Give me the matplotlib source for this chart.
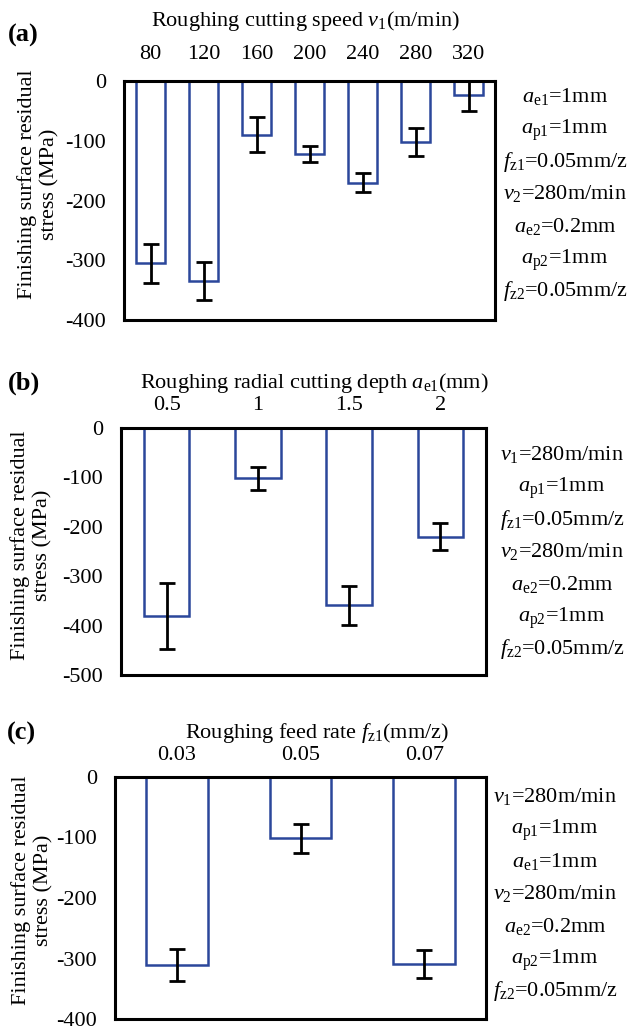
import numpy as np
import matplotlib
matplotlib.use("Agg")
import matplotlib.pyplot as plt

plt.rcParams['font.family'] = ['Liberation Serif', 'DejaVu Serif']
plt.rcParams['mathtext.fontset'] = 'custom'
plt.rcParams['mathtext.rm'] = 'Liberation Serif'
plt.rcParams['mathtext.it'] = 'Liberation Serif:italic'
plt.rcParams['axes.unicode_minus'] = False

# (a) roughing cutting speed
speed_labels = ['80', '120', '160', '200', '240', '280', '320']
speed_stress = [-305, -335, -90, -122, -170, -102, -23]
speed_err = [33, 32, 29, 13, 16, 24, 27]

# (b) roughing radial cutting depth
depth_labels = ['0.5', '1', '1.5', '2']
depth_stress = [-381, -102, -359, -220]
depth_err = [67, 24, 40, 27]

# (c) roughing feed rate
feed_labels = ['0.03', '0.05', '0.07']
feed_stress = [-311, -101, -309]
feed_err = [27, 24, 23]

notes_a = [r'$a_{\mathrm{e1}}$=1mm', r'$a_{\mathrm{p1}}$=1mm', r'$f_{\mathrm{z1}}$=0.05mm/z',
           r'$v_{\mathrm{2}}$=280m/min', r'$a_{\mathrm{e2}}$=0.2mm', r'$a_{\mathrm{p2}}$=1mm',
           r'$f_{\mathrm{z2}}$=0.05mm/z']
notes_b = [r'$v_{\mathrm{1}}$=280m/min', r'$a_{\mathrm{p1}}$=1mm', r'$f_{\mathrm{z1}}$=0.05mm/z',
           r'$v_{\mathrm{2}}$=280m/min', r'$a_{\mathrm{e2}}$=0.2mm', r'$a_{\mathrm{p2}}$=1mm',
           r'$f_{\mathrm{z2}}$=0.05mm/z']
notes_c = [r'$v_{\mathrm{1}}$=280m/min', r'$a_{\mathrm{p1}}$=1mm', r'$a_{\mathrm{e1}}$=1mm',
           r'$v_{\mathrm{2}}$=280m/min', r'$a_{\mathrm{e2}}$=0.2mm', r'$a_{\mathrm{p2}}$=1mm',
           r'$f_{\mathrm{z2}}$=0.05mm/z']

W, H = 629, 1029
fig = plt.figure(figsize=(W / 100, H / 100), dpi=100)
blue = '#2B479B'
fs = 16


def px(x0, y0, x1, y1):
    return [x0 / W, 1 - y1 / H, (x1 - x0) / W, (y1 - y0) / H]


def panel(rect, labels, vals, errs, ymin, width, xpad):
    ax = fig.add_axes(rect)
    x = np.arange(len(labels))
    ax.bar(x, vals, width=width, color='white', edgecolor=blue, linewidth=1.8, zorder=2)
    ax.errorbar(x, vals, yerr=errs, fmt='none', ecolor='black', elinewidth=2.0,
                capsize=6, capthick=2.0, zorder=3)
    ax.set_xlim(-0.5, len(labels) - 0.5)
    ax.set_ylim(ymin, 0)
    ax.set_yticks(np.arange(ymin, 1, 100))
    ax.set_xticks(x)
    ax.set_xticklabels(labels)
    ax.xaxis.tick_top()
    ax.tick_params(axis='x', length=0, pad=xpad, labelsize=fs)
    ax.tick_params(axis='y', length=0, pad=13, labelsize=fs)
    for s in ax.spines.values():
        s.set_linewidth(2.2)
    return ax


panel(px(124, 81, 495, 320), speed_labels, speed_stress, speed_err, -400, 0.53, 12)
panel(px(121, 428, 486, 675), depth_labels, depth_stress, depth_err, -500, 0.5, 9)
panel(px(115, 777, 486, 1019), feed_labels, feed_stress, feed_err, -400, 0.5, 9)

# panel letters and titles
fig.text(8 / W, 1 - 35 / H, '(a)', fontsize=19, fontweight='bold', va='center')
fig.text(8 / W, 1 - 383 / H, '(b)', fontsize=19, fontweight='bold', va='center')
fig.text(7 / W, 1 - 733 / H, '(c)', fontsize=19, fontweight='bold', va='center')
fig.text(151 / W, 1 - 21 / H, r'Roughing cutting speed $v_{\mathrm{1}}$(m/min)', fontsize=fs, va='center')
fig.text(140 / W, 1 - 383 / H, r'Roughing radial cutting depth $a_{\mathrm{e1}}$(mm)', fontsize=fs, va='center')
fig.text(185 / W, 1 - 733 / H, r'Roughing feed rate $f_{\mathrm{z1}}$(mm/z)', fontsize=fs, va='center')

# y labels
ylab = 'Finishing surface residual\nstress (MPa)'
for cx, cy in [(38, 184), (31, 545), (32, 890)]:
    fig.text(cx / W, 1 - cy / H, ylab, fontsize=fs, rotation=90, ha='center', va='center',
             multialignment='center', linespacing=1.2)

# condition notes (baseline aligned so the lines are evenly spaced)
for cx, y0, notes in [(565, 95, notes_a), (562, 453, notes_b), (555, 795, notes_c)]:
    for i, t in enumerate(notes):
        fig.text(cx / W, 1 - (y0 + 7 + 32.4 * i) / H, t, fontsize=fs, ha='center', va='baseline')

fig.savefig('out.png', dpi=100)
